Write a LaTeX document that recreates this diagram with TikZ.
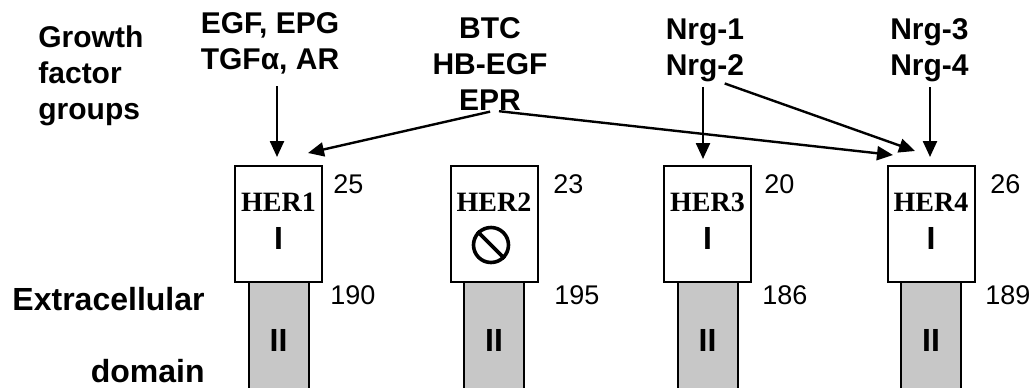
\documentclass[tikz,border=0pt]{standalone}
\usepackage{fontspec}
\setmainfont{Liberation Sans}
\newfontfamily\herfont{Liberation Serif}
\usetikzlibrary{arrows.meta, positioning}

\begin{document}
\begin{tikzpicture}[x=0.5pt, y=-0.5pt]
\tikzstyle{rec}=[rectangle, draw=black, line width=1pt, fill=white, minimum width=43.5pt, minimum height=58pt, inner sep=0pt]
\tikzstyle{stalk}=[rectangle, draw=black, line width=1pt, fill=black!22, minimum width=30pt, minimum height=60pt, inner sep=0pt]
\tikzstyle{lig}=[inner sep=0pt, align=center, font=\fontsize{15}{18}\selectfont\bfseries]
\tikzstyle{side}=[inner sep=0pt, font=\fontsize{16}{18}\selectfont\bfseries]
\tikzstyle{num}=[inner sep=0pt, anchor=north west, font=\fontsize{13.5}{16}\selectfont]
\tikzstyle{her}=[inner sep=0pt, font=\fontsize{14}{16}\herfont\bfseries]
\tikzstyle{dom}=[inner sep=0pt, font=\fontsize{16}{18}\selectfont\bfseries]
\tikzstyle{arr}=[-{Triangle[length=8pt, width=7pt]}, line width=1.2pt]
\useasboundingbox (0,0) rectangle (1034,387);
% side labels
\node[lig, align=left, anchor=north west] (grp) at (38,25) {Growth\\factor\\groups};
\node[side, anchor=north east] (ext) at (205,287) {Extracellular};
\node[side, anchor=north east] (dmn) at (205,359) {domain};
% growth factor groups
\node[lig, anchor=north] (g1) at (270,12) {EGF, EPG\\TGFα, AR};
\node[lig, anchor=north] (g2) at (490,17) {BTC\\HB-EGF\\EPR};
\node[lig, anchor=north] (g3) at (705,18) {Nrg-1\\Nrg-2};
\node[lig, anchor=north] (g4) at (929.5,18) {Nrg-3\\Nrg-4};
% receptors
\node[stalk] (s1) at (278.5,341) {};
\node[stalk] (s2) at (494,341) {};
\node[stalk] (s3) at (707.5,341) {};
\node[stalk] (s4) at (931,341) {};
\node[rec] (r1) at (278.5,224) {};
\node[rec] (r2) at (494,224) {};
\node[rec] (r3) at (707.5,224) {};
\node[rec] (r4) at (931,224) {};
\node[her] (h1) at (278.5,202.5) {HER1};
\node[her] (h2) at (494,202.5) {HER2};
\node[her] (h3) at (707.5,202.5) {HER3};
\node[her] (h4) at (931,202.5) {HER4};
\node[dom] (d1) at (278.5,238.5) {I};
\node[circle, draw, line width=1.8pt, minimum size=17.5pt, inner sep=0pt] (no2) at (491,245) {};
\draw[line width=1.8pt] (no2.135) -- (no2.-45);
\node[dom] (d3) at (707.5,238.5) {I};
\node[dom] (d4) at (931,238.5) {I};
\node[dom] (e1) at (278.5,340) {II};
\node[dom] (e2) at (494,340) {II};
\node[dom] (e3) at (707.5,340) {II};
\node[dom] (e4) at (931,340) {II};
% sizes
\node[num] (n1) at (333,174) {25};
\node[num] (n2) at (553,174) {23};
\node[num] (n3) at (764,174) {20};
\node[num] (n4) at (990,174) {26};
\node[num] (m1) at (330,285) {190};
\node[num] (m2) at (554,285) {195};
\node[num] (m3) at (762,285) {186};
\node[num] (m4) at (985,285) {189};
% binding
\coordinate (t1) at (277,157);
\coordinate (t2) at (308,153);
\coordinate (t3) at (703,159);
\coordinate (t4a) at (893,155);
\coordinate (t4b) at (915,151);
\coordinate (t4c) at (930,157);
\draw[arr, shorten <=6pt] (g1.south -| t1) -- (t1);
\draw[arr, shorten <=2pt] ([xshift=2pt]g2.south) -- (t2);
\draw[arr, shorten <=2pt] ([xshift=2.5pt]g2.south) -- (t4a);
\draw[arr, shorten <=2.5pt] (g3.south -| t3) -- (t3);
\draw[arr, shorten <=2.5pt] ([xshift=7.5pt]g3.south) -- (t4b);
\draw[arr, shorten <=2.5pt] (g4.south -| t4c) -- (t4c);
\end{tikzpicture}
\end{document}
